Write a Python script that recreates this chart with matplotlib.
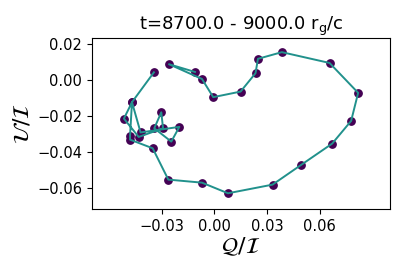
import numpy as np
import matplotlib
matplotlib.use("Agg")
import matplotlib.pyplot as plt

# Stokes Q/I and U/I samples, t = 8700 ... 9000
q_over_i = [-0.0110, -0.0258, -0.0070, -0.0006, 0.0150, 0.0235, 0.0249, 0.0385,
            0.0657, 0.0820, 0.0780, 0.0672, 0.0497, 0.0332, 0.0078, -0.0070,
            -0.0262, -0.0351, -0.0480, -0.0480, -0.0469, -0.0420, -0.0199, -0.0245,
            -0.0342, -0.0302, -0.0292, -0.0431, -0.0515, -0.0469, -0.0344]
u_over_i = [0.0046, 0.0089, 0.0007, -0.0094, -0.0063, 0.0039, 0.0119, 0.0156,
            0.0096, -0.0070, -0.0226, -0.0352, -0.0469, -0.0580, -0.0628, -0.0569,
            -0.0552, -0.0378, -0.0330, -0.0307, -0.0122, -0.0290, -0.0259, -0.0341,
            -0.0267, -0.0178, -0.0267, -0.0315, -0.0213, -0.0122, 0.0044]
x_ticks = [-0.03, 0.0, 0.03, 0.06]
y_ticks = [-0.06, -0.04, -0.02, 0.0, 0.02]
t_start, t_end = 8700.0, 9000.0

fig = plt.figure(figsize=(4.07, 2.71), dpi=100)
ax = fig.add_axes([0.226, 0.229, 0.732, 0.631])

ax.scatter(q_over_i, u_over_i, s=28, color='#440154', zorder=2)
ax.plot(q_over_i, u_over_i, color='#21918c', lw=1.4, zorder=3)

ax.set_xlim(-0.0697, 0.1001)
ax.set_ylim(-0.0715, 0.0235)
ax.set_xticks(x_ticks)
ax.set_yticks(y_ticks)
ax.tick_params(labelsize=10.5)

ax.set_xlabel(r'$\mathcal{Q}/\mathcal{I}$', fontsize=16, labelpad=1)
ax.set_ylabel(r'$\mathcal{U}/\mathcal{I}$', fontsize=16, labelpad=3)
ax.set_title(f"t={t_start} - {t_end} r$_\\mathrm{{g}}$/c", fontsize=13)

fig.savefig("out.png", dpi=100)
